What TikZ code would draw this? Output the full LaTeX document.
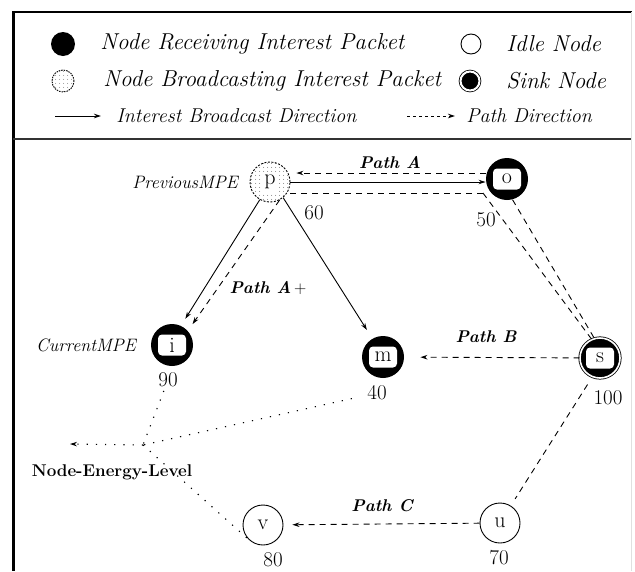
\documentclass[tikz,border=0pt]{standalone}
\usepackage{tikz}
\usetikzlibrary{positioning,arrows.meta,patterns.meta}

\begin{document}
\begin{tikzpicture}[x=1pt,y=-1pt,line width=0.9pt,
  >={Stealth[length=7pt,width=4.5pt]},
  recv node/.style={circle,fill=black,minimum size=42pt,inner sep=0pt,
    font=\fontsize{22}{22}\selectfont,
    path picture={\fill[white,rounded corners=4pt]
      ([shift={(-14pt,-10.5pt)}]path picture bounding box.center) rectangle
      ([shift={(14pt,10.5pt)}]path picture bounding box.center);}},
  sink node/.style={recv node,minimum size=40pt,draw=black,double=white,
    double distance=1.6pt,line width=0.8pt},
  idle node/.style={circle,draw,minimum size=40pt,inner sep=0pt,
    font=\fontsize{22}{22}\selectfont},
  bcast node/.style={circle,draw,dashed,dash pattern=on 2pt off 1.5pt,
    pattern={Dots[distance=4pt,radius=0.55pt]},pattern color=black!70,
    minimum size=40pt,inner sep=0pt,font=\fontsize{22}{22}\selectfont,
    path picture={\fill[white]
      ([shift={(-7pt,-10pt)}]path picture bounding box.center) rectangle
      ([shift={(7pt,10pt)}]path picture bounding box.center);}},
  key text/.style={anchor=west,inner sep=0pt,font=\fontsize{23}{26}\selectfont\itshape},
  dir text/.style={key text,font=\fontsize{20}{23}\selectfont\itshape},
  mpe text/.style={font=\fontsize{18}{20}\selectfont\itshape},
  path text/.style={font=\fontsize{17}{19}\selectfont\bfseries\itshape},
  energy/.style={font=\fontsize{21}{22}\selectfont},
  path line/.style={dash pattern=on 6pt off 5pt},
  energy line/.style={dash pattern=on 1.2pt off 8pt,line width=1.1pt}]

  \useasboundingbox (0,0) rectangle (635,571);

  % frame of the figure
  \draw[line width=3pt] (13,11) -- (13,571);
  \draw[line width=2pt] (12,12) -- (632,12);
  \draw[line width=1.5pt,black!80] (13,139) -- (632,139);
  \draw[black!12] (631,12) -- (631,571);

  % legend
  \node[circle,fill=black,minimum size=24pt] (kRecv) at (63,44) {};
  \node[key text] (tRecv) at (100,44) {Node Receiving Interest Packet};
  \node[circle,draw,minimum size=20pt] (kIdle) at (471,44) {};
  \node[key text] (tIdle) at (506,44) {Idle Node};
  \node[circle,draw,dashed,dash pattern=on 1.5pt off 1pt,minimum size=22pt,
    pattern={Dots[distance=4pt,radius=0.5pt]},pattern color=black!70] (kBcast) at (63,81) {};
  \node[key text] (tBcast) at (103,81) {Node Broadcasting Interest Packet};
  \node[circle,fill=black,minimum size=19pt,draw=black,double=white,
    double distance=2pt,line width=0.8pt] (kSink) at (470,81) {};
  \node[key text] (tSink) at (506,81) {Sink Node};
  \coordinate (kA1) at (55,116);
  \coordinate (kA2) at (101,116);
  \node[dir text] (tBroad) at (116,116) {Interest Broadcast Direction};
  \coordinate (kB1) at (407,116);
  \coordinate (kB2) at (455,116);
  \node[dir text] (tPath) at (466,116) {Path Direction};
  \draw[->] (kA1) -- (kA2);
  \draw[->,dash pattern=on 3pt off 3pt] (kB1) -- (kB2);

  % sensor nodes
  \node[bcast node] (p) at (270,182) {p};
  \node[recv node] (o) at (507,179) {o};
  \node[recv node] (i) at (172,345) {i};
  \node[recv node] (m) at (383,357) {m};
  \node[sink node] (s) at (600,358) {s};
  \node[idle node] (u) at (500,523) {u};
  \node[idle node] (v) at (263,525) {v};

  \node[mpe text,left=8pt of p] (prev) {PreviousMPE};
  \node[mpe text,left=11pt of i] (curr) {CurrentMPE};

  % energy levels
  \node[energy] (e60) at (314,213) {60};
  \node[energy] (e50) at (486,220) {50};
  \node[energy] (e90) at (168,380) {90};
  \node[energy] (e40) at (377,393) {40};
  \node[energy] (e100) at (608,398) {100};
  \node[energy] (e70) at (499,558) {70};
  \node[energy] (e80) at (273,560) {80};

  \node[path text] (pA) at (390,163) {Path A};
  \node[path text] (pAp) at (268,288) {Path A\,\textmd{\upshape+}};
  \node[path text] (pB) at (486,337) {Path B};
  \node[path text] (pC) at (382,506) {Path C};

  \node[energy,font=\fontsize{17}{19}\selectfont\bfseries] (nel) at (112,472) {Node-Energy-Level};
  \coordinate (ej) at (143,445);
  \coordinate (eEnd) at (70,444);
  \coordinate (oBend) at (483,193);

  \path
    ([yshift=6pt]o.west) edge[path line,->,shorten >=6pt] ([yshift=9pt]p.east)
    (p.east) edge[->] ([yshift=-3pt]o.west)
    ([yshift=-11pt]p.east) edge[path line] (oBend)
    (oBend) edge[path line] (s.114)
    (o.-75) edge[path line] (s.106)
    (p.-120) edge[->,shorten >=8pt] (i.65)
    (p.-62) edge[path line,->,shorten >=8pt] (i.42)
    (p.-50) edge[->,shorten >=10pt] (m.120)
    (s) edge[path line,->,shorten >=16pt] (m)
    (s.-112) edge[path line,shorten <=9pt,shorten >=8pt] (u.58)
    (u) edge[path line,->,shorten >=9pt] (v);

  \path[energy line]
    (e90) edge (ej)
    (e40) edge[shorten <=12pt] (ej)
    (ej) edge (v.230)
    (ej) edge[->] (eEnd);
\end{tikzpicture}
\end{document}
